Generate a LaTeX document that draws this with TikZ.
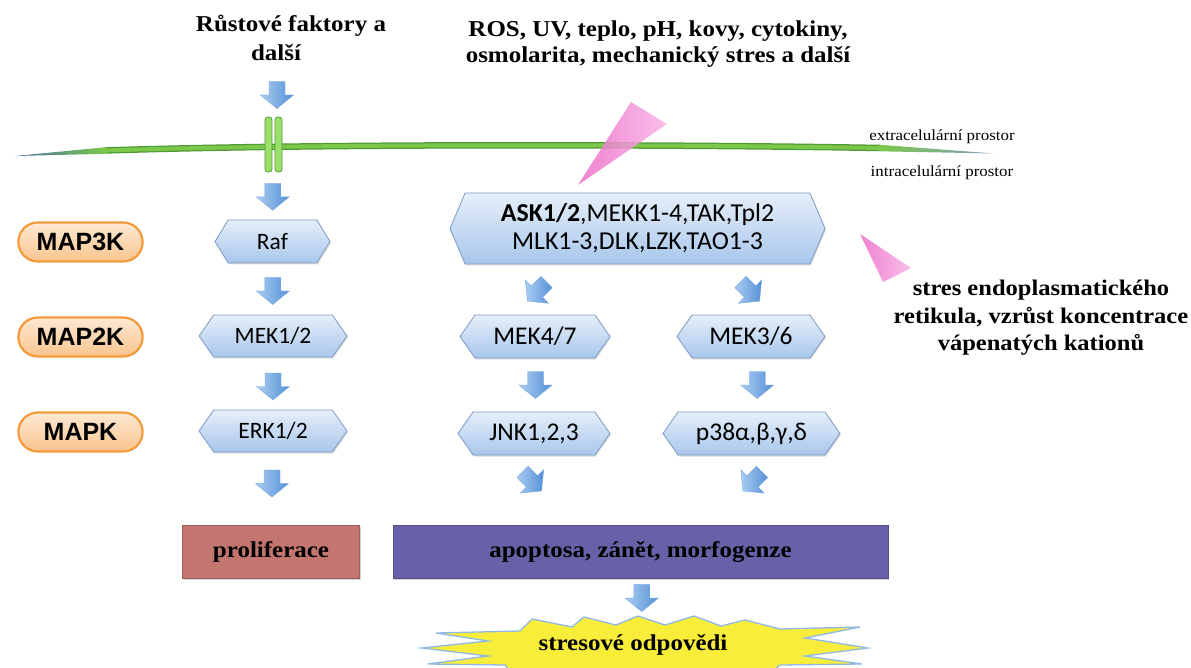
\documentclass[tikz,border=0pt]{standalone}
\usepackage{fontspec}
\setmainfont{Liberation Serif}[FakeStretch=1.1]
\newfontfamily\calib{Carlito}
\newfontfamily\arialf{Liberation Sans}
\usetikzlibrary{shapes.symbols,shapes.misc,shadows,calc}

\definecolor{hexTop}{HTML}{E6EFFA}
\definecolor{hexBot}{HTML}{A8C6EB}
\definecolor{hexLine}{HTML}{7C9AC4}
\definecolor{arrLight}{HTML}{AACDF2}
\definecolor{arrDark}{HTML}{5590D6}
\definecolor{pillTop}{HTML}{FDE9D4}
\definecolor{pillBot}{HTML}{F9C48E}
\definecolor{pillLine}{HTML}{F39A3C}
\definecolor{memGreen}{HTML}{7CC84A}
\definecolor{memDark}{HTML}{4F9A35}
\definecolor{memBlue}{HTML}{4A6FA5}
\definecolor{chanFill}{HTML}{9BE06A}
\definecolor{wedgeA}{HTML}{EC6CC8}
\definecolor{wedgeB}{HTML}{F8B4E6}
\definecolor{prolifFill}{HTML}{C37670}
\definecolor{apopFill}{HTML}{6762A8}
\definecolor{burstFill}{HTML}{F8EE3A}
\definecolor{burstLine}{HTML}{8FB9E4}

\tikzset{
  headtext/.style={font=\bfseries\fontsize{22.7}{29}\selectfont, align=center},
  hexbox/.style={signal, signal to=west and east, signal pointer angle=110,
    draw=hexLine, line width=0.8pt, top color=hexTop, bottom color=hexBot,
    inner sep=0pt, minimum height=42, font=\calib\fontsize{23.5}{26}\selectfont,
    drop shadow={opacity=0.25, shadow xshift=1pt, shadow yshift=-1.5pt}},
  bighex/.style={hexbox, minimum height=43, font=\calib\fontsize{25.5}{28}\selectfont},
  levelpill/.style={rounded rectangle, draw=pillLine, line width=2.2pt,
    top color=pillTop, bottom color=pillBot, minimum width=131, minimum height=39,
    font=\arialf\bfseries\fontsize{25}{28}\selectfont},
  outcome/.style={rectangle, draw=#1!80!black, line width=0.6pt, fill=#1,
    inner sep=0pt, minimum height=53, font=\bfseries\fontsize{22.7}{26}\selectfont,
    drop shadow={opacity=0.35, shadow xshift=1pt, shadow yshift=-2pt}},
  sidetext/.style={font=\fontsize{15.4}{18}\selectfont},
  wedge/.style={left color=wedgeA, right color=wedgeB, opacity=0.85},
  pics/blockarrow/.style={code={
    \shade[left color=arrLight, right color=arrDark, draw=arrDark!80!white,
      line width=0.4pt, rotate=#1]
      (-13.5,-8) -- (0,-8) -- (0,-16.5) -- (13.5,0) -- (0,16.5) -- (0,8) -- (-13.5,8) -- cycle;}}
}

\begin{document}
\begin{tikzpicture}[x=1pt,y=-1pt]
\useasboundingbox (0,0) rectangle (1191,668);

% stimuli above the membrane
\node[headtext] (growth) at (291,38) {Růstové faktory a\\další\hspace*{30pt}};
\node[headtext, font=\bfseries\fontsize{22.7}{26}\selectfont] (stim) at (658,44)
  {ROS, UV, teplo, pH, kovy, cytokiny,\\osmolarita, mechanický stres a další};

% cell membrane with tapered blue ends
\draw[memDark, line width=6.5pt] (105,150.5) .. controls (300,144) and (650,144) .. (880,148);
\draw[memGreen, line width=4pt] (105,150.5) .. controls (300,144) and (650,144) .. (880,148);
\shade[left color=memBlue, right color=memGreen] (15,156) -- (106,147.2) -- (106,153.8) -- cycle;
\shade[left color=memGreen, right color=memBlue!70!white] (879,144.7) -- (994,153.5) -- (879,151.3) -- cycle;

% receptor channel
\filldraw[memDark, fill=chanFill, line width=0.8pt, rounded corners=3pt] (265,117) rectangle (272,172);
\filldraw[memDark, fill=chanFill, line width=0.8pt, rounded corners=3pt] (275,117) rectangle (282,172);

\node[sidetext] (extra) at (942,137) {extracelulární prostor};
\node[sidetext] (intra) at (942,173) {intracelulární prostor};

% stress wedges
\shade[wedge] (631,102) -- (667,124) -- (578,185) -- cycle;
\shade[wedge] (860,234) -- (911,268) -- (883,282) -- cycle;

\node[headtext, font=\bfseries\fontsize{22.3}{27.5}\selectfont] (er) at (1041,318)
  {stres endoplasmatického\\retikula, vzrůst koncentrace\\vápenatých kationů};

% kinase levels
\node[levelpill] (map3k) at (80.5,242) {MAP3K};
\node[levelpill] (map2k) at (80.5,337) {MAP2K};
\node[levelpill] (mapk)  at (80.5,432) {MAPK};

% kinase boxes
\node[hexbox, minimum width=115, minimum height=43, signal pointer angle=117] (raf) at (272.5,241.5) {Raf};
\node[hexbox, minimum width=148] (mek12) at (273,336) {MEK1/2};
\node[hexbox, minimum width=148] (erk12) at (273,431) {ERK1/2};
\node[hexbox, minimum width=375, minimum height=71, signal pointer angle=134,
      align=center, font=\calib\fontsize{25.8}{28}\selectfont] (ask) at (637.5,228.5)
  {\textbf{ASK1/2},MEKK1-4,TAK,Tpl2\\MLK1-3,DLK,LZK,TAO1-3};
\node[bighex, minimum width=150] (mek47) at (535,336.5) {MEK4/7};
\node[bighex, minimum width=148] (mek36) at (751,336.5) {MEK3/6};
\node[bighex, minimum width=152] (jnk)   at (534,433.5) {JNK1,2,3};
\node[bighex, minimum width=177] (p38)   at (751.5,433.5) {p38α,β,γ,δ};

% outcomes
\node[outcome=prolifFill, minimum width=177] (prolif) at (271,551.5) {proliferace};
\node[outcome=apopFill, minimum width=495] (apop) at (640.5,551.5) {apoptosa, zánět, morfogenze};

% stress response burst
\filldraw[burstLine, fill=burstFill, line width=1.3pt]
  (422,648) -- (488,641) -- (436,633) -- (520,631) -- (532,619) -- (572,627)
  -- (584,617) -- (616,625) -- (638,616) -- (665,625) -- (694,616) -- (721,626)
  -- (745,620) -- (780,629) -- (860,627) -- (805,638) -- (868,648) -- (805,656)
  -- (862,664) -- (780,665) -- (760,682) -- (720,672) -- (640,684) -- (560,672)
  -- (520,682) -- (505,665) -- (428,664) -- (488,656) -- cycle;
\node[font=\bfseries\fontsize{22.7}{26}\selectfont] (resp) at (633,645) {stresové odpovědi};
\coordinate (burstTop) at (643,618);

% signalling arrows
\coordinate (memIn) at (273,172);
\coordinate (growthIn) at (277,95);
\pic at (growthIn) {blockarrow=-90};
\pic at ($(memIn)!0.5!(raf.north)+(0,1)$) {blockarrow=-90};
\pic at ($(raf.south)!0.5!(mek12.north)+(0,2)$) {blockarrow=-90};
\pic at ($(mek12.south)!0.5!(erk12.north)+(0,3)$) {blockarrow=-90};
\pic at ($(erk12.south)!0.5!(prolif.north)-(0,5)$) {blockarrow=-90};
\pic at ($(mek47.north)+(2,-23)$) {blockarrow=-135};
\pic at ($(mek36.north)+(-1,-23)$) {blockarrow=-45};
\pic at ($(mek47.south)!0.5!(jnk.north)+(1,0)$) {blockarrow=-90};
\pic at ($(mek36.south)!0.5!(p38.north)+(6,0)$) {blockarrow=-90};
\pic at ($(jnk.south)+(-2,26)$) {blockarrow=-45};
\pic at ($(p38.south)+(1,26)$) {blockarrow=-135};
\pic at ($(apop.south)!0.5!(burstTop)$) {blockarrow=-90};
\end{tikzpicture}
\end{document}
